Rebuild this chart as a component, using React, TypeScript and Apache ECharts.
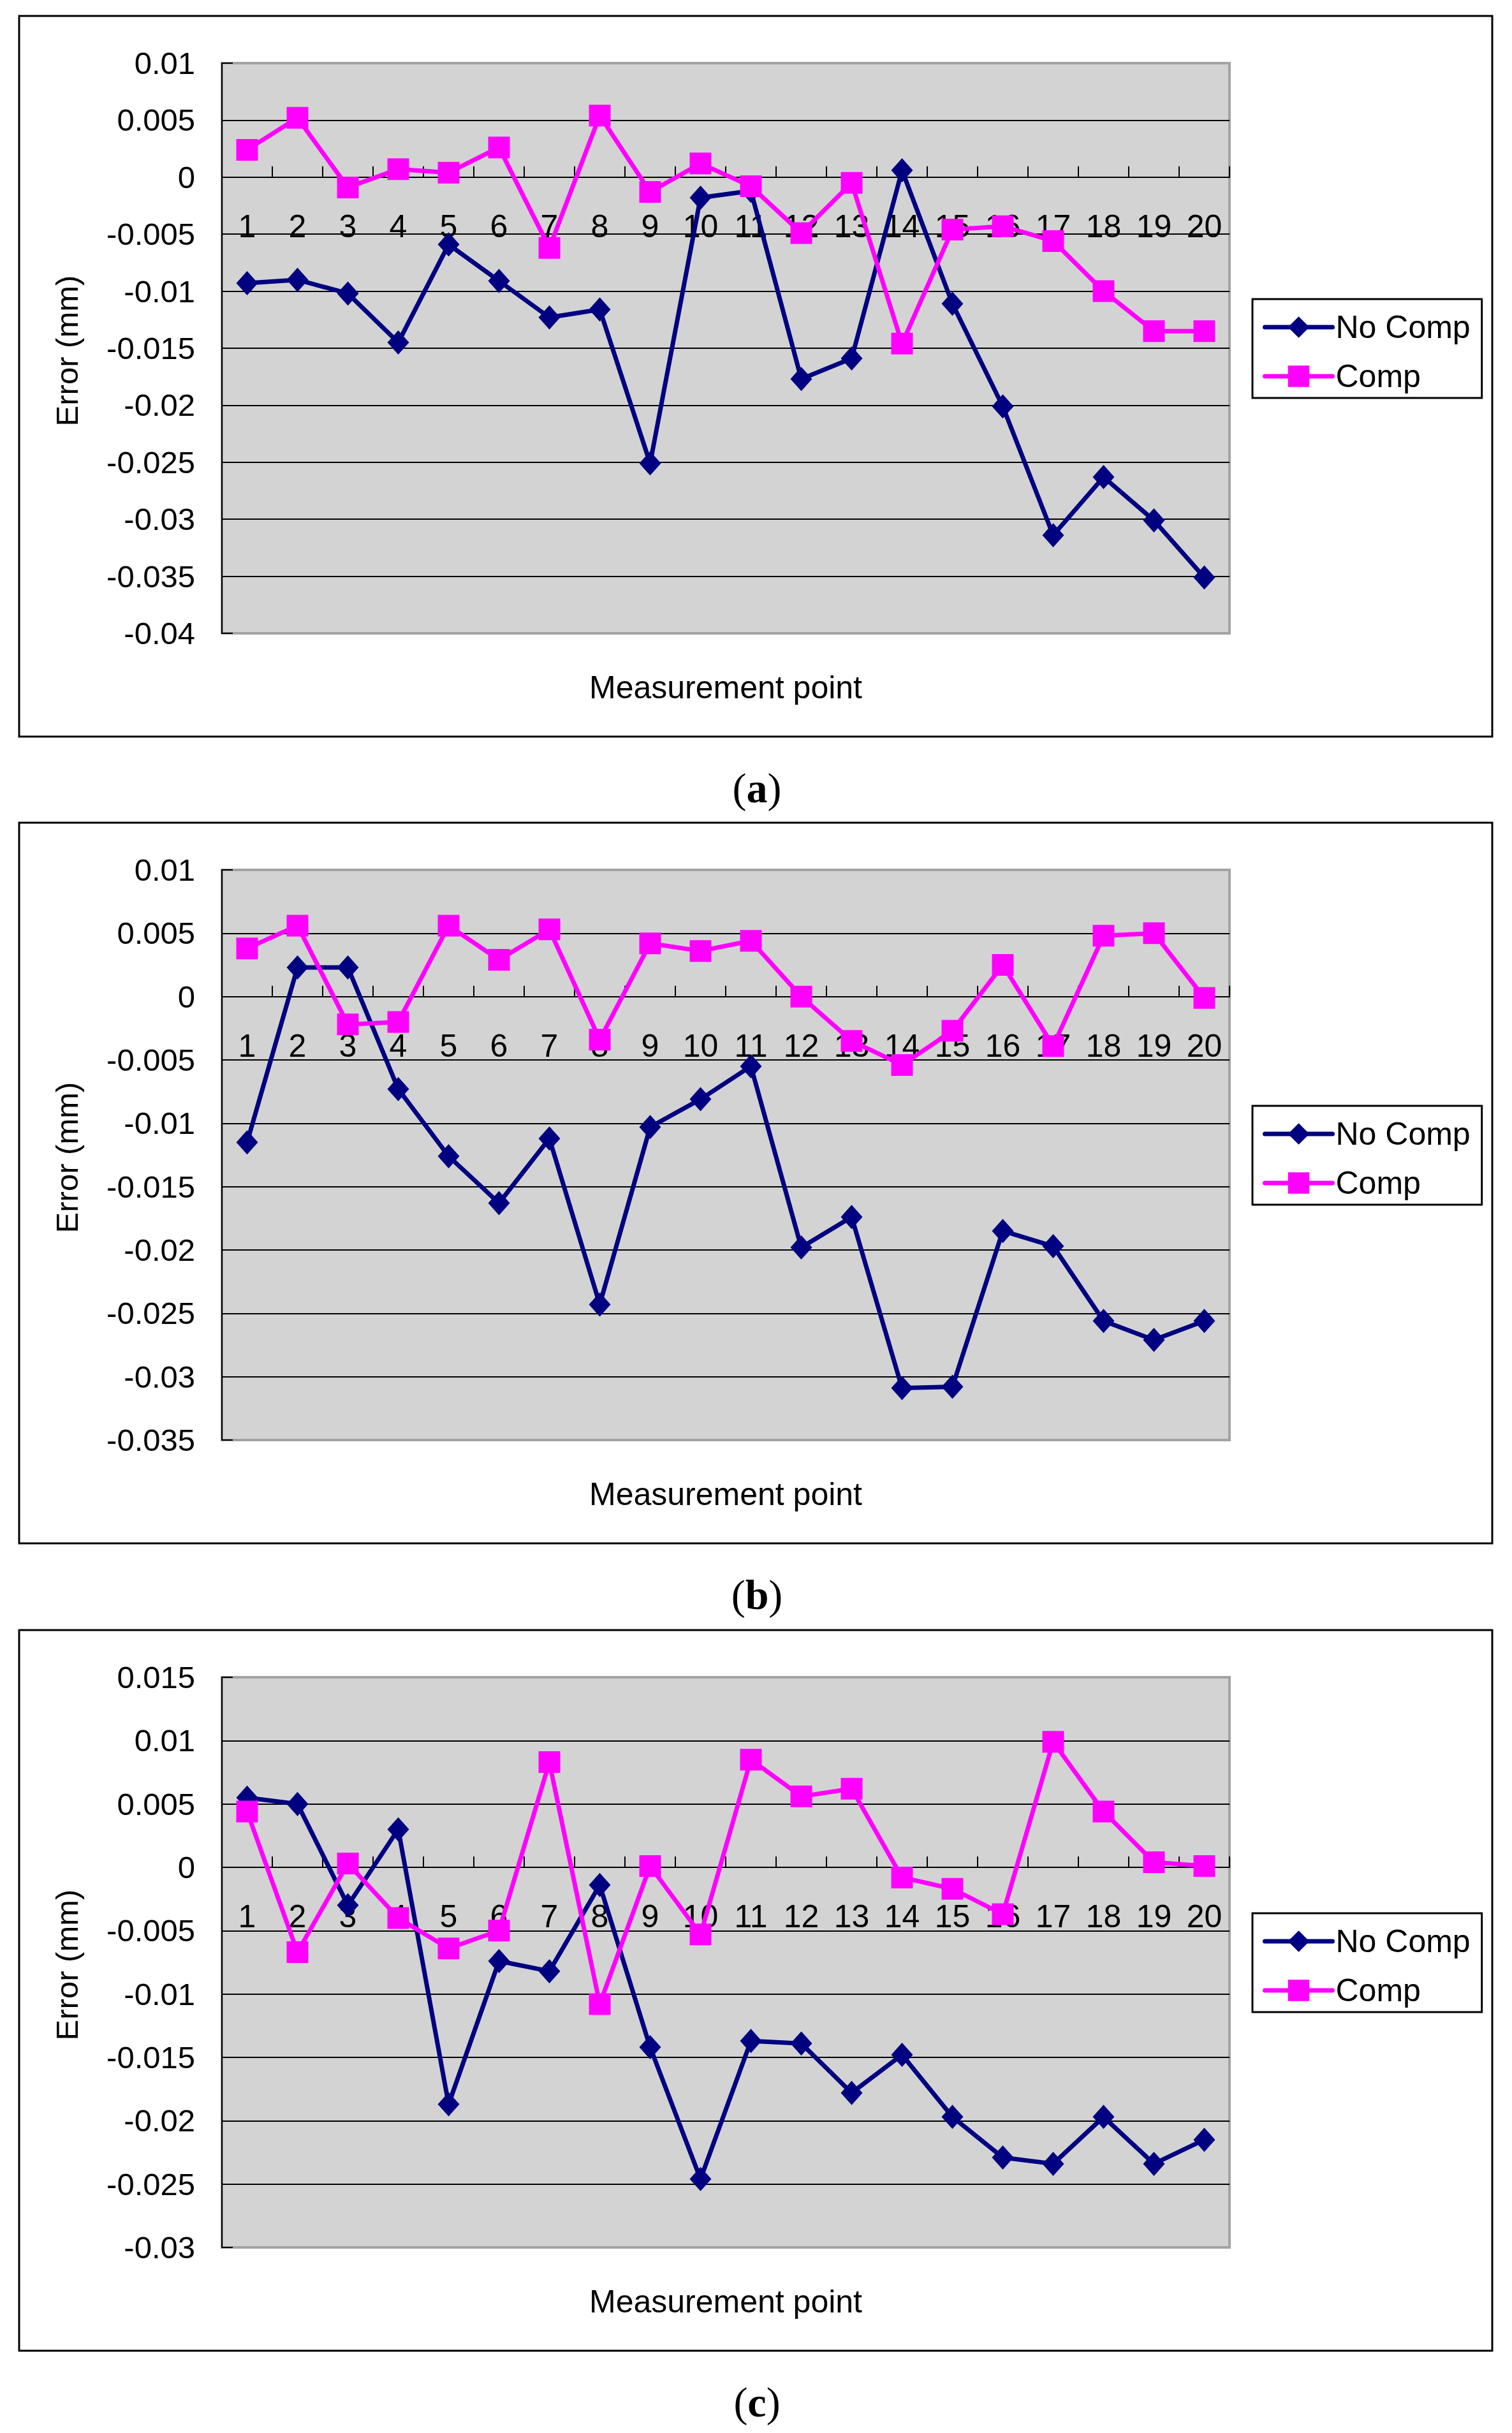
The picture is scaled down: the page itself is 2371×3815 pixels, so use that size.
import React, { useEffect, useRef } from "react";
import * as echarts from "echarts";

const categories = ["1","2","3","4","5","6","7","8","9","10","11","12","13","14","15","16","17","18","19","20"];
const seriesNames = ["No Comp", "Comp"];

const noCompA = [-0.0093,-0.0090,-0.0102,-0.0145,-0.0059,-0.0091,-0.0123,-0.0116,-0.0251,-0.0018,-0.0012,-0.0177,-0.0159,0.0006,-0.0111,-0.0201,-0.0314,-0.0263,-0.0301,-0.0351];
const compA = [0.0024,0.0052,-0.0009,0.0007,0.0004,0.0026,-0.0062,0.0054,-0.0013,0.0012,-0.0008,-0.0049,-0.0005,-0.0146,-0.0046,-0.0043,-0.0056,-0.0100,-0.0135,-0.0135];

const noCompB = [-0.0115,0.0023,0.0023,-0.0073,-0.0126,-0.0163,-0.0112,-0.0243,-0.0103,-0.0081,-0.0055,-0.0198,-0.0174,-0.0309,-0.0308,-0.0185,-0.0197,-0.0256,-0.0271,-0.0256];
const compB = [0.0038,0.0056,-0.0022,-0.0020,0.0056,0.0029,0.0053,-0.0034,0.0042,0.0036,0.0044,0.0000,-0.0035,-0.0054,-0.0027,0.0025,-0.0039,0.0048,0.0050,-0.0001];

const noCompC = [0.0055,0.0050,-0.0030,0.0030,-0.0187,-0.0074,-0.0082,-0.0014,-0.0142,-0.0246,-0.0137,-0.0139,-0.0178,-0.0148,-0.0197,-0.0229,-0.0234,-0.0197,-0.0234,-0.0215];
const compC = [0.0044,-0.0067,0.0003,-0.0040,-0.0064,-0.0050,0.0083,-0.0108,0.0001,-0.0053,0.0085,0.0056,0.0062,-0.0008,-0.0017,-0.0037,0.0099,0.0044,0.0004,0.0001];

const yMins = [-0.04, -0.035, -0.03];
const yMaxs = [0.01, 0.01, 0.015];
const yInterval = 0.005;
const captions = ["a", "b", "c"];
const xTitle = "Measurement point";
const yTitle = "Error (mm)";

const panels = [
  { noComp: noCompA, comp: compA },
  { noComp: noCompB, comp: compB },
  { noComp: noCompC, comp: compC },
];

const W = 2371;
const H = 3815;
const FONT = "'Liberation Sans', Arial, sans-serif";
const SERIF = "'Liberation Serif', 'Times New Roman', serif";
const NAVY = "#000080";
const MAGENTA = "#FF00FF";

export default function App() {
  const ref = useRef<HTMLDivElement>(null);

  useEffect(() => {
    if (!ref.current) return;
    const chart = echarts.init(ref.current, null, { renderer: "svg", width: W, height: H });

    const frameTops = [25, 1290, 2556];
    const grids: any[] = [];
    const xAxes: any[] = [];
    const yAxes: any[] = [];
    const series: any[] = [];
    const legends: any[] = [];
    const graphics: any[] = [];

    frameTops.forEach((ft, i) => {
      const gTop = ft + 74;
      const gH = 894;
      // distance of the zero line above the grid's bottom edge, from the y scale
      const zeroFromBottom = (gH * (0 - yMins[i])) / (yMaxs[i] - yMins[i]);
      grids.push({
        left: 348,
        top: gTop,
        width: 1580,
        height: gH,
        show: true,
        backgroundColor: "#D3D3D3",
        borderColor: "#A3A3A3",
        borderWidth: 4,
      });
      xAxes.push({
        type: "category",
        gridIndex: i,
        position: "bottom",
        offset: -zeroFromBottom,
        data: categories,
        boundaryGap: true,
        axisLine: { show: true, onZero: false, lineStyle: { color: "#000", width: 2 } },
        axisTick: { show: true, inside: true, length: 17, interval: 0, lineStyle: { color: "#000", width: 2 } },
        axisLabel: { interval: 0, margin: 52, fontSize: 50, fontFamily: FONT, color: "#000" },
        splitLine: { show: false },
        z: 5,
      });
      yAxes.push({
        type: "value",
        gridIndex: i,
        min: yMins[i],
        max: yMaxs[i],
        interval: yInterval,
        axisLine: { show: true, onZero: false, lineStyle: { color: "#000", width: 2 } },
        axisTick: { show: true, inside: true, length: 17, lineStyle: { color: "#000", width: 2 } },
        axisLabel: {
          margin: 42,
          fontSize: 49,
          fontFamily: FONT,
          color: "#000",
          formatter: (v: number) => String(parseFloat(v.toFixed(3))),
        },
        splitLine: { show: true, showMinLine: false, showMaxLine: false, lineStyle: { color: "#000", width: 2 } },
      });
      const p = panels[i];
      series.push({
        name: seriesNames[0],
        type: "line",
        xAxisIndex: i,
        yAxisIndex: i,
        data: p.noComp,
        symbol: "diamond",
        symbolSize: [34, 38],
        showAllSymbol: true,
        lineStyle: { color: NAVY, width: 7 },
        itemStyle: { color: NAVY },
        z: 6,
      });
      series.push({
        name: seriesNames[1],
        type: "line",
        xAxisIndex: i,
        yAxisIndex: i,
        data: p.comp,
        symbol: "rect",
        symbolSize: 34,
        showAllSymbol: true,
        lineStyle: { color: MAGENTA, width: 7 },
        itemStyle: { color: MAGENTA },
        z: 7,
      });
      legends.push({
        show: true,
        orient: "vertical",
        left: 1964,
        top: ft + 444,
        data: seriesNames,
        itemWidth: 106,
        itemHeight: 42,
        itemGap: 27,
        padding: [19, 18, 9, 16],
        borderColor: "#000",
        borderWidth: 3,
        backgroundColor: "#fff",
        selectedMode: false,
        lineStyle: { width: 7, cap: "round" },
        textStyle: { fontSize: 50, fontFamily: FONT, color: "#000", lineHeight: 50 },
      });
      graphics.push({
        type: "rect",
        shape: { x: 30, y: ft, width: 2310, height: 1130 },
        style: { fill: "none", stroke: "#000", lineWidth: 3 },
        z: -1,
      });
      graphics.push({
        type: "text",
        x: 1138,
        y: ft + 1053,
        style: {
          text: xTitle,
          fontSize: 50,
          fontFamily: FONT,
          fill: "#000",
          align: "center",
          verticalAlign: "middle",
        },
      });
      graphics.push({
        type: "text",
        x: 105,
        y: gTop + gH / 2 + 4,
        rotation: Math.PI / 2,
        style: {
          text: yTitle,
          fontSize: 49,
          fontFamily: FONT,
          fill: "#000",
          align: "center",
          verticalAlign: "middle",
        },
      });
      graphics.push({
        type: "text",
        x: 1187,
        y: ft + 1210,
        style: {
          text: "{p|(}{b|" + captions[i] + "}{p|)}",
          align: "center",
          verticalAlign: "middle",
          rich: {
            p: { fontSize: 66, fontFamily: SERIF, fill: "#000" },
            b: { fontSize: 66, fontFamily: SERIF, fontWeight: "bold", fill: "#000" },
          },
        },
      });
    });

    chart.setOption({
      animation: false,
      backgroundColor: "#fff",
      grid: grids,
      xAxis: xAxes,
      yAxis: yAxes,
      series,
      legend: legends,
      graphic: graphics,
    });

    return () => chart.dispose();
  }, []);

  return (
    <div
      ref={ref}
      style={{ position: "absolute", left: 0, top: 0, width: W, height: H, background: "#fff" }}
    />
  );
}
